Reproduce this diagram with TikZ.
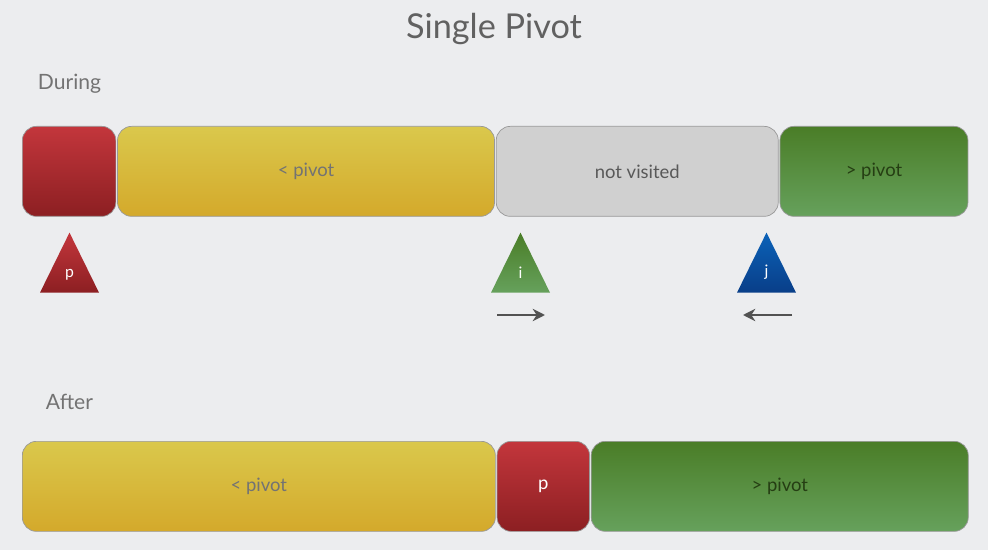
\documentclass[tikz,border=0pt]{standalone}
\usepackage{fontspec}
\setmainfont{Lato}
\usepackage{xcolor}
\usetikzlibrary{positioning,shapes.geometric,arrows.meta}

\definecolor{bgcol}{HTML}{ECEDEF}
\definecolor{redtop}{HTML}{C3363C}
\definecolor{redbot}{HTML}{8C1F22}
\definecolor{yeltop}{HTML}{DAC84C}
\definecolor{yelbot}{HTML}{D4A92B}
\definecolor{graybox}{HTML}{D0D0D0}
\definecolor{grntop}{HTML}{4A7D27}
\definecolor{grnbot}{HTML}{66A15C}
\definecolor{blutop}{HTML}{0B62B8}
\definecolor{blubot}{HTML}{093E88}

\tikzset{
  block/.style={draw=black!40,rounded corners=8pt,minimum height=1.8cm,inner sep=0pt,
    font=\fontsize{10.5}{13}\selectfont},
  redbox/.style={block,top color=redtop,bottom color=redbot,text=white},
  yelbox/.style={block,top color=yeltop,bottom color=yelbot,text=black!55},
  graybx/.style={block,fill=graybox,text=black!65},
  grnbox/.style={block,top color=grntop,bottom color=grnbot,text=black!50!grntop}
}

\begin{document}
\begin{tikzpicture}[node distance=0.02cm]

\tikzstyle{marker}=[isosceles triangle,shape border rotate=90,isosceles triangle stretches,
  minimum width=1.18cm,minimum height=1.2cm,inner sep=0pt,text=white,
  font=\fontsize{9}{10}\selectfont]
\tikzstyle{caption}=[text=black!55,font=\fontsize{12}{14}\selectfont]
\tikzstyle{mover}=[draw=black!68,line width=1.5pt,-{Stealth[length=7pt,width=7pt]}]

\fill[bgcol] (0,0) rectangle (19.76,-11);
\useasboundingbox (0,0) rectangle (19.76,-11);

\node[text=black!62,font=\fontsize{19.5}{24}\selectfont] (title) at (9.88,-0.58) {Single Pivot};

% during
\node[caption] (during) at (1.39,-1.68) {During};
\node[redbox,minimum width=1.87cm,anchor=north west] (pv) at (0.44,-2.52) {};
\node[yelbox,minimum width=7.54cm,right=of pv] (lt) {< pivot};
\node[graybx,minimum width=5.64cm,right=of lt] (nv) {not visited};
\node[grnbox,minimum width=3.76cm,right=of nv] (gt) {> pivot};

\node[marker,anchor=lower side,top color=redtop,bottom color=redbot] (tp) at (1.39,-5.86) {p};
\node[marker,anchor=lower side,top color=grntop,bottom color=grnbot] (ti) at (10.41,-5.86) {i};
\node[marker,anchor=lower side,top color=blutop,bottom color=blubot] (tj) at (15.33,-5.86) {j};

\coordinate (ia) at (9.94,-6.30);
\coordinate (ib) at (10.90,-6.30);
\coordinate (ja) at (15.84,-6.30);
\coordinate (jb) at (14.86,-6.30);
\draw[mover] (ia) -- (ib);
\draw[mover] (ja) -- (jb);

% after
\node[caption] (after) at (1.39,-8.04) {After};
\node[yelbox,minimum width=9.46cm,anchor=north west] (lt2) at (0.44,-8.82) {< pivot};
\node[redbox,minimum width=1.85cm,right=of lt2] (pv2) {p};
\node[grnbox,minimum width=7.54cm,right=of pv2] (gt2) {> pivot};

\end{tikzpicture}
\end{document}
